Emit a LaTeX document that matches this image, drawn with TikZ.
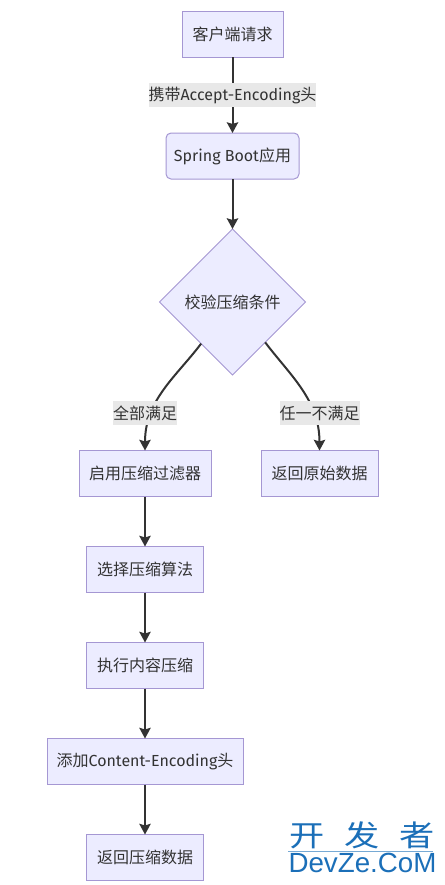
\documentclass[tikz,border=0pt]{standalone}
\usepackage{fontspec}
\setmainfont{Noto Sans CJK SC}
\newfontfamily\lat{Fira Sans}
\newfontfamily\wmfont{Liberation Sans}
\usepackage{xcolor}
\usetikzlibrary{shapes.geometric, arrows.meta, positioning}
\definecolor{nodefill}{HTML}{ECECFF}
\definecolor{nodeline}{HTML}{A597D3}
\definecolor{inkgray}{HTML}{333333}
\definecolor{lblfill}{HTML}{E8E8E8}
\definecolor{wmblue}{HTML}{1B6FB8}

\begin{document}
\begin{tikzpicture}[
  x=0.75pt, y=-0.75pt,
  node distance=37.5pt,
  every node/.style={font=\fontsize{12pt}{14pt}\selectfont, text=inkgray},
  proc/.style={rectangle, draw=nodeline, fill=nodefill, line width=0.75pt, outer sep=0pt,
               minimum width=87.75pt, minimum height=34.5pt, inner sep=0pt, align=center},
  rproc/.style={proc, rounded corners=3.75pt},
  cond/.style={diamond, draw=nodeline, fill=nodefill, line width=0.75pt, outer sep=0pt,
               minimum width=109.5pt, minimum height=109.5pt, inner sep=0pt, align=center},
  lbl/.style={fill=lblfill, inner sep=0pt, minimum height=17.5pt},
  arr/.style={-{Stealth[length=8pt, width=8.5pt, inset=1.2pt]}, inkgray, line width=1.5pt},
  wm/.style={text=wmblue, inner sep=0pt},
]
\useasboundingbox (0,0) rectangle (445,885);
% Main flow
\node[proc, minimum width=75.75pt] (client) at (232.5,34) {客户端请求};
\node[rproc, below=57pt of client, minimum width=99.75pt] (app) {{\lat Spring Boot}应用};
\node[cond, below=of app] (check) {校验压缩条件};
\node[proc, minimum width=99pt] (enable) at (145,473.5) {启用压缩过滤器};
\node[proc] (raw) at (319.5,473.5) {返回原始数据};
\node[proc, below=of enable] (algo) {选择压缩算法};
\node[proc, below=of algo] (compress) {执行内容压缩};
\node[proc, below=of compress, minimum width=147pt] (header) {添加{\lat Content-Encoding}头};
\node[proc, below=of header] (done) {返回压缩数据};
% Edges
\draw[arr] (client) -- node[lbl] (carry) {携带{\lat Accept-Encoding}头} (app);
\draw[arr] (app) -- (check);
\draw[arr] (check.-127) .. controls +(-25,33) and (145,400) .. (enable);
\draw[arr] (check.-51) .. controls +(25,33) and (319.5,400) .. (raw);
\node[lbl] (allok) at (145,413) {全部满足};
\node[lbl] (anyno) at (319.5,413) {任一不满足};
\draw[arr] (enable) -- (algo);
\draw[arr] (algo) -- (compress);
\draw[arr] (compress) -- (header);
\draw[arr] (header) -- (done);
% Watermark
\node[wm, font=\fontsize{22pt}{24pt}\selectfont, xscale=1.2] (wmtop) at (362.5,835) {开\hspace{12.4pt}发\hspace{12.4pt}者};
\node[wm, below=3pt of wmtop, font=\wmfont\fontsize{20.8pt}{24pt}\selectfont] (wmbot) {DevZe.CoM};
\draw[wmblue!60, line width=0.5pt] (wmbot.north west) ++(0,-2) -- ++(145,0);
\end{tikzpicture}
\end{document}
